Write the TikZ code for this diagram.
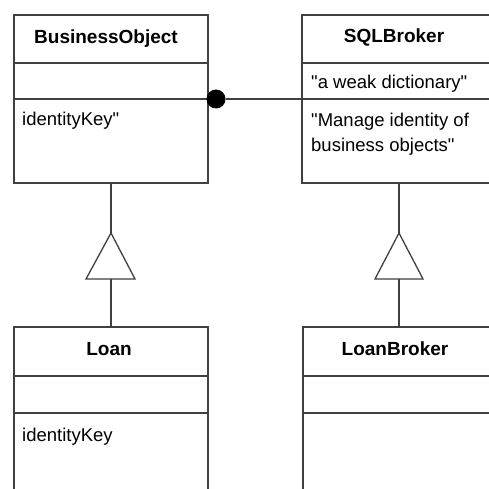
\documentclass[tikz,border=0pt]{standalone}
\usepackage{fontspec}
\setmainfont{Liberation Sans}
\usetikzlibrary{calc}
\begin{document}
\begin{tikzpicture}[x=1pt,y=-1pt,
  umlbox/.style={draw=black!75,line width=1.3pt,rectangle,inner sep=0,outer sep=0},
  conn/.style={draw=black!75,line width=1.3pt},
  title/.style={font=\fontsize{19}{22}\selectfont\bfseries,inner sep=0,anchor=base},
  txt/.style={font=\fontsize{18.5}{22}\selectfont,inner sep=0,anchor=base west},
  dot/.style={circle,fill=black,inner sep=0,minimum size=19pt}]
\useasboundingbox (0,0) rectangle (489,489);
\fill[white] (0,0) rectangle (489,489);
% boxes
\node[umlbox,minimum width=194pt,minimum height=168pt] (bo) at (111,99) {};
\node[umlbox,minimum width=220pt,minimum height=168pt] (sb) at (412,99) {};
\node[umlbox,minimum width=194pt,minimum height=200pt] (lo) at (111,427) {};
\node[umlbox,minimum width=220pt,minimum height=200pt] (lb) at (413,427) {};
% compartments
\draw[conn] ($(bo.north west)+(0,48)$) -- ($(bo.north east)+(0,48)$);
\draw[conn] ($(bo.north west)+(0,84)$) -- ($(bo.north east)+(0,84)$);
\draw[conn] ($(sb.north west)+(0,48)$) -- ($(sb.north east)+(0,48)$);
\draw[conn] ($(sb.north west)+(0,84)$) -- ($(sb.north east)+(0,84)$);
\draw[conn] ($(lo.north west)+(0,49)$) -- ($(lo.north east)+(0,49)$);
\draw[conn] ($(lo.north west)+(0,86)$) -- ($(lo.north east)+(0,86)$);
\draw[conn] ($(lb.north west)+(0,49)$) -- ($(lb.north east)+(0,49)$);
\draw[conn] ($(lb.north west)+(0,86)$) -- ($(lb.north east)+(0,86)$);
% texts
\node[title] (tbo) at (106,44) {BusinessObject};
\node[title] (tsb) at (394,43) {SQLBroker};
\node[title] (tlo) at (109,355) {Loan};
\node[title] (tlb) at (395,355) {LoanBroker};
\node[txt] (ik1) at (22,126) {identityKey\textquotedbl};
\node[txt] (wd) at (311,89) {\textquotedbl a weak dictionary\textquotedbl};
\node[txt] (mi1) at (311,127) {\textquotedbl Manage identity of};
\node[txt] (mi2) at (311,152) {business objects\textquotedbl};
\node[txt] (ik2) at (22,441) {identityKey};
% association with filled circle
\node[dot] (c) at (216,99) {};
\draw[conn] (c) -- (sb.west |- c);
% generalizations
\coordinate (t1a) at (111,233);
\coordinate (t1l) at (86,279);
\coordinate (t1r) at (135,279);
\coordinate (t1b) at (111,279);
\coordinate (t2a) at (399,233);
\coordinate (t2l) at (375,279);
\coordinate (t2r) at (423,279);
\coordinate (t2b) at (399,279);
\draw[conn] (lo.north) -- (t1b);
\draw[conn] (t1a) -- (bo.south);
\draw[conn,line join=miter] (t1a) -- (t1l) -- (t1r) -- cycle;
\draw[conn] (t2b) -- (t2b |- lb.north);
\draw[conn] (t2a) -- (t2a |- sb.south);
\draw[conn,line join=miter] (t2a) -- (t2l) -- (t2r) -- cycle;
\end{tikzpicture}
\end{document}
